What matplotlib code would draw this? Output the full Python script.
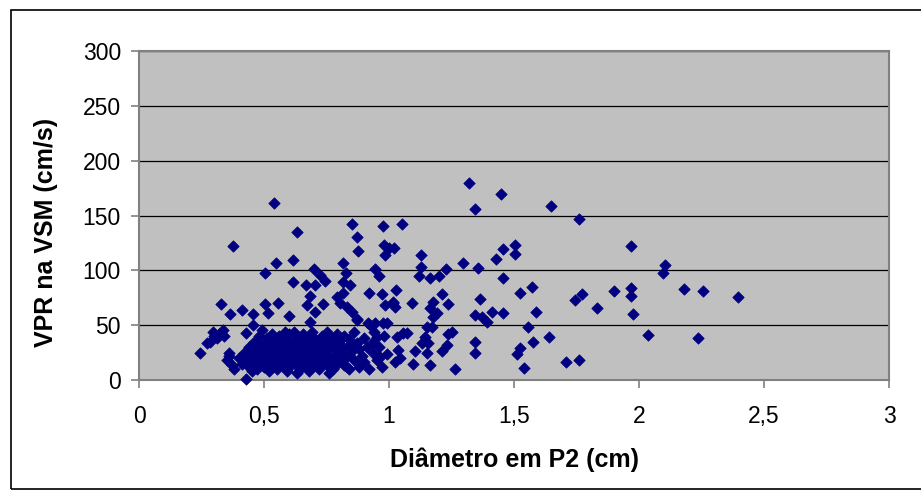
import matplotlib
matplotlib.use("Agg")
import matplotlib.pyplot as plt
from matplotlib.patches import Rectangle

plt.rcParams['font.family'] = ['Liberation Sans', 'DejaVu Sans']

# Diameter at P2 (cm)
diam_sparse = [0.54, 0.376, 0.63, 0.85, 0.976, 0.87, 0.876, 0.98, 1.0, 0.984, 0.548, 0.617, 0.504, 0.617,
               0.70, 0.724, 0.744, 0.668, 0.704, 0.816, 0.828, 0.816, 0.844, 0.944, 0.96, 0.92, 0.684, 0.736,
               0.672, 0.704, 0.816, 0.804, 0.83, 0.85, 0.972, 0.984, 1.016, 0.328, 0.364, 0.412, 0.456, 0.456,
               0.504, 0.516, 0.556, 0.6, 0.87, 0.684, 0.296, 0.336, 0.284, 0.27, 0.428, 0.49, 0.916, 0.944,
               0.99, 0.428, 0.244,
               1.32, 1.448, 1.344, 1.648, 1.76, 1.052, 1.02, 1.128, 1.128, 1.12, 1.164, 1.2, 1.228, 1.296,
               1.356, 1.428, 1.456, 1.504, 1.504, 1.456, 1.028, 1.016, 1.024, 1.092, 1.212, 1.236, 1.176,
               1.164, 1.192, 1.176, 1.364, 1.344, 1.372, 1.392, 1.412, 1.456, 1.524, 1.572, 1.588, 1.744,
               1.772, 1.556, 1.64, 1.576, 1.524, 1.512, 1.54, 1.708, 1.76, 1.344, 1.344, 1.264, 1.164, 1.096,
               1.212, 1.232, 1.252, 1.236, 1.15, 1.17, 1.144, 1.132, 1.156, 1.152, 1.104, 1.056, 1.032, 1.036,
               1.044, 1.024,
               1.968, 2.104, 2.096, 1.9, 1.968, 1.968, 2.18, 2.256, 2.396, 1.832, 1.976, 2.036, 2.236,
               1.07, 0.976, 0.924, 0.952, 0.936, 0.964, 0.872, 0.792]
# Peak systolic velocity at VSM (cm/s)
vpr_sparse = [161, 122, 135, 142, 140, 130, 118, 123, 120, 114, 107, 109, 98, 89,
              101, 96, 90, 87, 87, 107, 98, 89, 87, 101, 95, 79, 77, 69,
              68, 62, 79, 70, 67, 62, 78, 68, 70, 69, 60, 64, 60, 50,
              69, 61, 70, 58, 56, 53, 44, 46, 35, 34, 43, 46, 52, 52,
              52, 1, 25,
              180, 170, 156, 159, 147, 142, 120, 114, 103, 95, 93, 95, 101, 107,
              102, 110, 119, 123, 115, 93, 82, 71, 67, 70, 78, 69, 71,
              66, 61, 57, 74, 59, 57, 53, 62, 61, 79, 85, 62, 73,
              78, 48, 39, 35, 29, 24, 11, 16, 18, 35, 25, 10, 14, 15,
              26, 32, 44, 42, 48, 48, 39, 34, 34, 25, 26, 43, 39, 27,
              20, 16,
              122, 105, 98, 81, 84, 77, 83, 81, 76, 66, 60, 41, 38,
              43, 52, 50, 39, 25, 21, 55, 76]

diam_dense = [0.30, 0.31, 0.32, 0.34, 0.36, 0.35, 0.37, 0.38, 0.36, 0.40, 0.41, 0.42, 0.43, 0.44, 0.44,
              0.45, 0.45, 0.46, 0.46, 0.47, 0.47, 0.48, 0.48, 0.49, 0.49,
              0.50, 0.50, 0.51, 0.51, 0.52, 0.52, 0.53, 0.53, 0.54, 0.54, 0.55, 0.55, 0.56, 0.56, 0.57,
              0.57, 0.58, 0.58, 0.59, 0.59, 0.60, 0.60, 0.60,
              0.61, 0.61, 0.62, 0.62, 0.63, 0.63, 0.64, 0.64, 0.65, 0.65, 0.66, 0.66, 0.67, 0.67, 0.68,
              0.68, 0.69, 0.69, 0.70, 0.70,
              0.71, 0.71, 0.72, 0.72, 0.73, 0.73, 0.74, 0.74, 0.75, 0.75, 0.76, 0.76, 0.77, 0.77, 0.78,
              0.78, 0.79, 0.79, 0.80, 0.80,
              0.81, 0.82, 0.82, 0.83, 0.84, 0.84, 0.85, 0.86, 0.86, 0.87, 0.88, 0.88, 0.89, 0.90, 0.90,
              0.91, 0.92, 0.93, 0.94, 0.95, 0.96, 0.97, 0.98, 0.99,
              0.555, 0.575, 0.585, 0.605, 0.625, 0.645, 0.665, 0.685, 0.705, 0.725, 0.745, 0.765, 0.785,
              0.565, 0.595, 0.615, 0.635, 0.655, 0.675, 0.695, 0.715, 0.735, 0.755, 0.775, 0.795,
              0.46, 0.48, 0.50, 0.52, 0.54, 0.56, 0.58, 0.60, 0.62, 0.64, 0.66, 0.68, 0.70, 0.72,
              0.74, 0.76, 0.78, 0.80, 0.82, 0.84,
              0.47, 0.49, 0.51, 0.53, 0.55, 0.57, 0.59, 0.61, 0.63, 0.65, 0.67, 0.69, 0.71, 0.73,
              0.75, 0.77, 0.79, 0.81, 0.83, 0.85]
vpr_dense = [40, 38, 42, 40, 22, 18, 14, 10, 25, 20, 15, 25, 18, 30, 12,
             22, 8, 35, 16, 28, 10, 20, 40, 14, 32,
             25, 12, 38, 18, 30, 8, 22, 42, 15, 34, 26, 10, 40, 20, 30,
             14, 24, 36, 8, 18, 28, 42, 12,
             22, 34, 16, 44, 26, 6, 38, 20, 30, 12, 24, 40, 16, 32, 8,
             26, 20, 44, 30, 14,
             36, 22, 10, 28, 40, 18, 32, 24, 14, 44, 28, 6, 20, 36, 30,
             12, 24, 42, 18, 34,
             28, 14, 40, 22, 32, 10, 26, 44, 18, 34, 12, 28, 22, 38, 16,
             30, 10, 34, 44, 18, 30, 12, 40, 24,
             32, 22, 44, 20, 36, 28, 18, 38, 24, 34, 16, 40, 20,
             26, 34, 28, 14, 42, 22, 30, 12, 26, 34, 10, 28,
             26, 33, 20, 36, 27, 14, 31, 22, 35, 11, 29, 17, 38, 20,
             27, 13, 34, 24, 19, 37,
             19, 24, 29, 12, 38, 21, 32, 17, 29, 37, 21, 34, 19, 36,
             22, 31, 16, 38, 12, 30]

x_ticks = [0, 0.5, 1, 1.5, 2, 2.5, 3]
x_labels = ['0', '0,5', '1', '1,5', '2', '2,5', '3']
y_ticks = [0, 50, 100, 150, 200, 250, 300]

W, H = 921, 498
fig = plt.figure(figsize=(W / 100, H / 100), dpi=100)
fig.patch.set_facecolor('white')

# outer chart border
fig.patches.append(Rectangle((11 / W, 1 - 489 / H), (W + 5 - 11) / W, (489 - 10) / H,
                             transform=fig.transFigure, fill=False, edgecolor='black',
                             linewidth=1.2, zorder=0))

ax = fig.add_axes([139 / W, 1 - 380 / H, 750 / W, 329 / H])
ax.set_facecolor('#C0C0C0')
ax.set_xlim(0, 3)
ax.set_ylim(0, 300)

for yv in y_ticks[1:]:
    ax.axhline(yv, color='black', linewidth=0.9, zorder=1)

navy = '#000080'
ax.scatter(diam_dense + diam_sparse, vpr_dense + vpr_sparse, marker='D', s=34,
           color=navy, edgecolors=navy, linewidths=0.5, zorder=3, clip_on=False)

for sp in ax.spines.values():
    sp.set_color('#808080')
    sp.set_linewidth(1.5)

ax.set_xticks(x_ticks)
ax.set_xticklabels(x_labels)
ax.set_yticks(y_ticks)
ax.tick_params(axis='both', direction='out', length=6, width=1.2, color='#808080',
               labelsize=16.5, labelcolor='black')
ax.tick_params(axis='x', pad=12)
ax.tick_params(axis='y', pad=7)

ax.set_xlabel('Diâmetro em P2 (cm)', fontsize=18, fontweight='bold', labelpad=14)
ax.set_ylabel('VPR na VSM (cm/s)', fontsize=18, fontweight='bold')
ax.yaxis.set_label_coords(-0.108, 0.45)

fig.savefig('out.png', dpi=100, facecolor='white')
